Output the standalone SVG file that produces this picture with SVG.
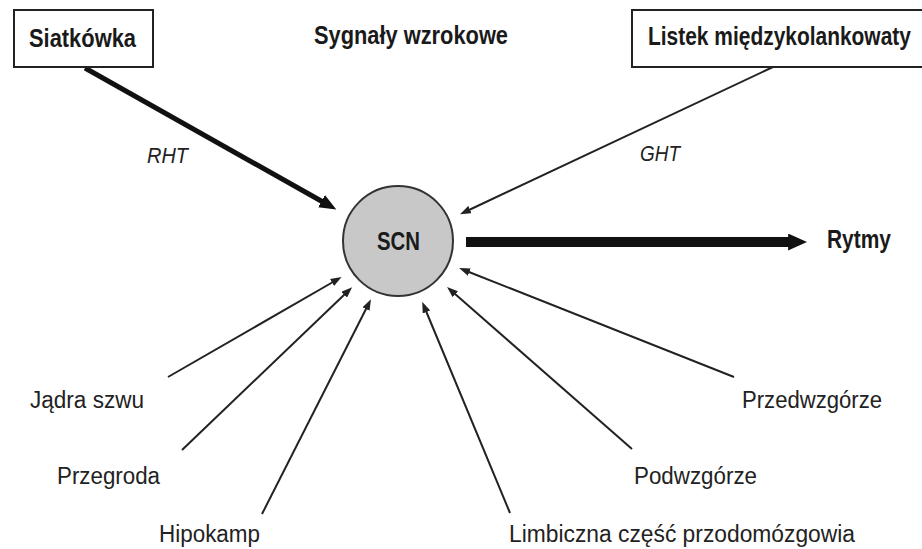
<svg xmlns="http://www.w3.org/2000/svg" width="922" height="549" viewBox="0 0 922 549">
<style>
.box{fill:#fff;stroke:#222;stroke-width:2}
.b{font-family:"Liberation Sans Narrow","Liberation Sans",Arial,sans-serif;font-weight:bold;font-size:25px;fill:#1a1a1a}
.r{font-family:"Liberation Sans Narrow","Liberation Sans",Arial,sans-serif;font-size:23.5px;fill:#222}
.i{font-family:"Liberation Sans Narrow","Liberation Sans",Arial,sans-serif;font-style:italic;font-size:22px;fill:#222}
.thin{stroke:#222;stroke-width:2;fill:none;marker-end:url(#ah)}
</style>
<defs>
<marker id="ah" markerUnits="userSpaceOnUse" viewBox="0 0 10 10" refX="1" refY="5" markerWidth="11" markerHeight="8" orient="auto" preserveAspectRatio="none"><path d="M0,0 L10,5 L0,10 z" fill="#222"/></marker>
<marker id="ahm" markerUnits="userSpaceOnUse" viewBox="0 0 10 10" refX="1" refY="5" markerWidth="17" markerHeight="14" orient="auto" preserveAspectRatio="none"><path d="M0,0 L10,5 L0,10 z" fill="#111"/></marker>
<marker id="ahb" markerUnits="userSpaceOnUse" viewBox="0 0 10 10" refX="1" refY="5" markerWidth="19" markerHeight="17" orient="auto" preserveAspectRatio="none"><path d="M0,0 L10,5 L0,10 z" fill="#111"/></marker>
</defs>
<rect width="922" height="549" fill="#fff"/>
<g id="connectors">
<path d="M85,68 L323,202" stroke="#111" stroke-width="5" fill="none" marker-end="url(#ahm)"/>
<path class="thin" d="M773,67 L469,210"/>
<path d="M466,242 L790,242" stroke="#111" stroke-width="10" fill="none" marker-end="url(#ahb)"/>
<path class="thin" d="M168,377 L333,282"/>
<path class="thin" d="M182,450 L345,294"/>
<path class="thin" d="M262,514 L366.5,308"/>
<path class="thin" d="M510,513 L426,311"/>
<path class="thin" d="M632,449 L454.5,293.6"/>
<path class="thin" d="M734,377 L468.3,271.7"/>
</g>
<g id="siatkowka"><rect class="box" x="14" y="10" width="139" height="57"/><text class="b" x="29" y="47" textLength="107" lengthAdjust="spacingAndGlyphs">Siatkówka</text></g>
<g id="sygnaly"><text class="b" x="314" y="44" textLength="194" lengthAdjust="spacingAndGlyphs">Sygnały wzrokowe</text></g>
<g id="listek"><rect class="box" x="632" y="10" width="300" height="57"/><text class="b" transform="translate(648,45) scale(0.84,1)" x="0" y="0" textLength="313" lengthAdjust="spacingAndGlyphs">Listek międzykolankowaty</text></g>
<g id="rht"><text class="i" x="147" y="163" textLength="41" lengthAdjust="spacingAndGlyphs">RHT</text></g>
<g id="ght"><text class="i" x="640" y="161" textLength="40" lengthAdjust="spacingAndGlyphs">GHT</text></g>
<g id="scn"><circle cx="398" cy="241" r="55" fill="#c8c8c8" stroke="#333" stroke-width="2"/><text class="b" x="377" y="250" textLength="43" lengthAdjust="spacingAndGlyphs">SCN</text></g>
<g id="rytmy"><text class="b" x="827" y="248" textLength="64" lengthAdjust="spacingAndGlyphs">Rytmy</text></g>
<g id="jadra"><text class="r" x="30" y="408" textLength="114" lengthAdjust="spacingAndGlyphs">Jądra szwu</text></g>
<g id="przegroda"><text class="r" x="57" y="484" textLength="103" lengthAdjust="spacingAndGlyphs">Przegroda</text></g>
<g id="hipokamp"><text class="r" x="159" y="542" textLength="101" lengthAdjust="spacingAndGlyphs">Hipokamp</text></g>
<g id="limbiczna"><text class="r" x="509" y="542" textLength="346" lengthAdjust="spacingAndGlyphs">Limbiczna część przodomózgowia</text></g>
<g id="podwzgorze"><text class="r" x="634" y="484" textLength="123" lengthAdjust="spacingAndGlyphs">Podwzgórze</text></g>
<g id="przedwzgorze"><text class="r" x="742" y="408" textLength="140" lengthAdjust="spacingAndGlyphs">Przedwzgórze</text></g>
</svg>
